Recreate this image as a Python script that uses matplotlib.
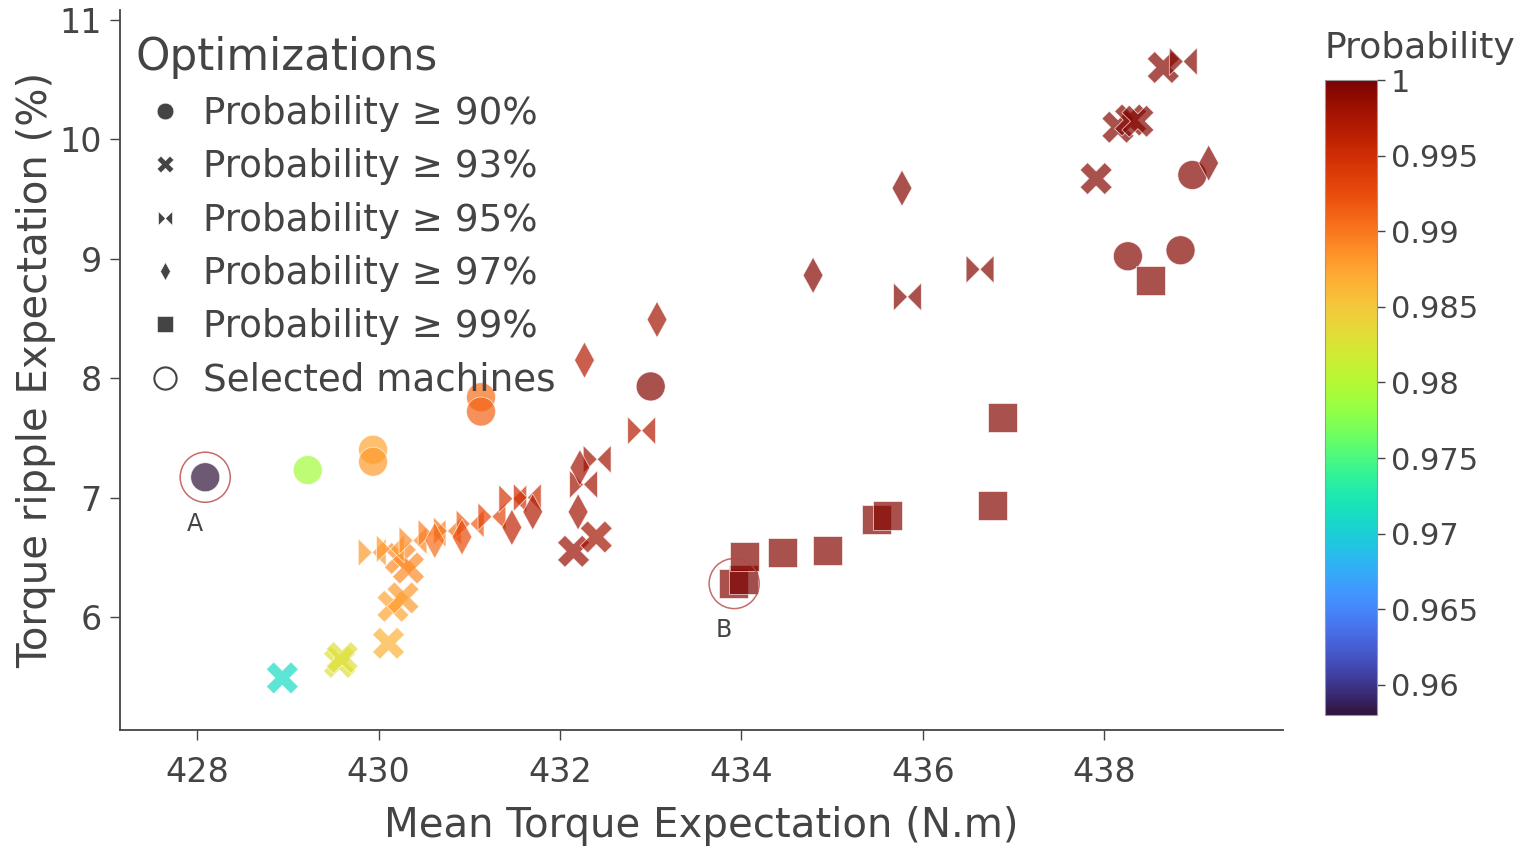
import numpy as np
import matplotlib
matplotlib.use("Agg")
import matplotlib.pyplot as plt
from matplotlib.path import Path
from matplotlib.lines import Line2D
from matplotlib.ticker import FuncFormatter

# Probability >= 90% (circles)
circ_x = [428.09, 429.22, 429.94, 429.94, 431.13, 431.13, 433.00, 438.26, 438.84, 438.97]
circ_y = [7.17, 7.23, 7.40, 7.30, 7.84, 7.72, 7.93, 9.02, 9.07, 9.70]
circ_p = [0.958, 0.979, 0.9875, 0.988, 0.9905, 0.991, 0.9995, 0.9995, 0.9995, 0.9995]

# Probability >= 93% (crosses)
cross_x = [428.94, 429.57, 429.60, 430.11, 430.16, 430.27, 430.24, 430.33,
           432.15, 432.40, 437.91, 438.15, 438.29, 438.37, 438.65]
cross_y = [5.49, 5.62, 5.66, 5.78, 6.09, 6.16, 6.49, 6.41,
           6.55, 6.67, 9.67, 10.10, 10.16, 10.15, 10.60]
cross_p = [0.971, 0.983, 0.983, 0.9865, 0.9875, 0.988, 0.989, 0.989,
           0.9985, 0.998, 0.9995, 0.9995, 0.9995, 0.9995, 0.9995]

# Probability >= 95% (bowties)
bow_x = [429.93, 430.13, 430.38, 430.59, 430.76, 431.01, 431.25, 431.48, 431.64,
         432.26, 432.41, 432.90, 435.83, 436.63, 438.87]
bow_y = [6.54, 6.57, 6.64, 6.70, 6.72, 6.78, 6.84, 6.99, 7.00,
         7.11, 7.32, 7.56, 8.68, 8.91, 10.65]
bow_p = [0.988, 0.988, 0.989, 0.9895, 0.99, 0.9915, 0.993, 0.9945, 0.995,
         0.998, 0.998, 0.997, 0.9995, 0.9995, 0.9995]

# Probability >= 97% (diamonds)
dia_x = [430.62, 430.92, 431.47, 431.70, 432.20, 432.22, 432.27, 433.07, 434.79, 435.77, 439.15]
dia_y = [6.64, 6.67, 6.75, 6.88, 6.88, 7.25, 8.15, 8.49, 8.86, 9.59, 9.80]
dia_p = [0.9905, 0.9925, 0.996, 0.997, 0.998, 0.998, 0.997, 0.998, 0.9995, 0.9995, 0.9995]

# Probability >= 99% (squares)
sq_x = [433.91, 434.02, 434.03, 434.45, 434.95, 435.49, 435.61, 436.77, 436.88, 438.51]
sq_y = [6.28, 6.31, 6.51, 6.54, 6.56, 6.82, 6.85, 6.93, 7.67, 8.82]
sq_p = [0.9995, 1.0, 0.9995, 0.9995, 0.9995, 0.9995, 0.9995, 0.9995, 0.9995, 0.9995]

# selected machines
sel_x = [428.09, 433.92]
sel_y = [7.17, 6.28]
sel_lab = ["A", "B"]

p_min, p_max = 0.958, 1.0
cbar_ticks = [0.96, 0.965, 0.97, 0.975, 0.98, 0.985, 0.99, 0.995, 1.0]

# marker shapes
t = 0.3
plus = np.array([(t, t), (t, 1), (-t, 1), (-t, t), (-1, t), (-1, -t),
                 (-t, -t), (-t, -1), (t, -1), (t, -t), (1, -t), (1, t)])
c45 = np.cos(np.pi / 4)
rot = plus @ np.array([[c45, c45], [-c45, c45]])
x_mark = Path(np.vstack([rot, rot[:1]]), closed=True)

bow_mark = Path([(-1, -1), (-1, 1), (0, 0), (-1, -1), (1, 1), (1, -1), (0, 0), (1, 1)],
                [Path.MOVETO, Path.LINETO, Path.LINETO, Path.CLOSEPOLY] * 2)
dia_mark = Path([(0, 1), (0.55, 0), (0, -1), (-0.55, 0), (0, 1)], closed=True)

grey = "#444444"
plt.rcParams["font.family"] = ["DejaVu Sans"]

fig = plt.figure(figsize=(15.24, 8.46), dpi=100)
ax = fig.add_axes([0.0787, 0.1371, 0.7632, 0.8509])
cax = fig.add_axes([0.8694, 0.1548, 0.0341, 0.7506])

kw = dict(cmap="turbo", vmin=p_min, vmax=p_max, alpha=0.7,
          edgecolors="white", linewidths=0.6)
sc = ax.scatter(circ_x, circ_y, c=circ_p, marker="o", s=436, **kw)
ax.scatter(cross_x, cross_y, c=cross_p, marker=x_mark, s=530, **kw)
ax.scatter(bow_x, bow_y, c=bow_p, marker=bow_mark, s=400, **kw)
ax.scatter(dia_x, dia_y, c=dia_p, marker=dia_mark, s=675, **kw)
ax.scatter(sq_x, sq_y, c=sq_p, marker="s", s=436, **kw)
ax.scatter(sel_x, sel_y, s=1300, facecolors="none", edgecolors="#b84545",
           linewidths=1.1, alpha=0.8)
for xx, yy, lab in zip(sel_x, sel_y, sel_lab):
    ax.text(xx - 0.11, yy - 0.39, lab, fontsize=17, color=grey, ha="center", va="center")

ax.set_xlim(427.15, 439.97)
ax.set_ylim(5.054, 11.08)
ax.set_xticks([428, 430, 432, 434, 436, 438])
ax.set_yticks([6, 7, 8, 9, 10, 11])
ax.tick_params(labelsize=24, colors=grey, length=7, width=1)
ax.tick_params(axis="x", pad=12)
ax.tick_params(axis="y", pad=6)
for side in ["top", "right"]:
    ax.spines[side].set_visible(False)
for side in ["left", "bottom"]:
    ax.spines[side].set_color(grey)
    ax.spines[side].set_linewidth(1.3)
ax.set_xlabel("Mean Torque Expectation (N.m)", fontsize=29, color=grey, labelpad=12)
ax.set_ylabel("Torque ripple Expectation (%)", fontsize=29, color=grey, labelpad=2)

handles = [
    Line2D([], [], ls="", marker="o", ms=12, color=grey, mec="white", mew=0.4),
    Line2D([], [], ls="", marker=x_mark, ms=12, color=grey, mec="white", mew=0.4),
    Line2D([], [], ls="", marker=bow_mark, ms=10, color=grey, mec="white", mew=0.4),
    Line2D([], [], ls="", marker=dia_mark, ms=13, color=grey, mec="white", mew=0.4),
    Line2D([], [], ls="", marker="s", ms=12, color=grey, mec="white", mew=0.4),
    Line2D([], [], ls="", marker="o", ms=16, mfc="none", mec=grey, mew=1.5),
]
labels = ["Probability ≥ 90%", "Probability ≥ 93%", "Probability ≥ 95%",
          "Probability ≥ 97%", "Probability ≥ 99%", "Selected machines"]
leg = ax.legend(handles, labels, loc="upper left", bbox_to_anchor=(0.089, 0.958),
                bbox_transform=fig.transFigure, frameon=False, fontsize=26.8,
                title="Optimizations", title_fontsize=31.5, alignment="left",
                handlelength=1.6, handletextpad=0.2, labelspacing=0.44,
                borderpad=0, borderaxespad=0)
for txt in leg.get_texts():
    txt.set_color(grey)
leg.get_title().set_color(grey)

cb = fig.colorbar(sc, cax=cax, ticks=cbar_ticks)
cb.solids.set_alpha(1)
cb.outline.set_edgecolor("#999999")
cb.outline.set_linewidth(0.8)
cb.ax.yaxis.set_major_formatter(FuncFormatter(lambda v, pos: f"{v:g}"))
cb.ax.tick_params(labelsize=22, colors=grey, length=6, width=1, pad=4)
cax.set_title("Probability", loc="left", fontsize=26, color=grey, pad=16)

fig.savefig("out.png", dpi=100)
